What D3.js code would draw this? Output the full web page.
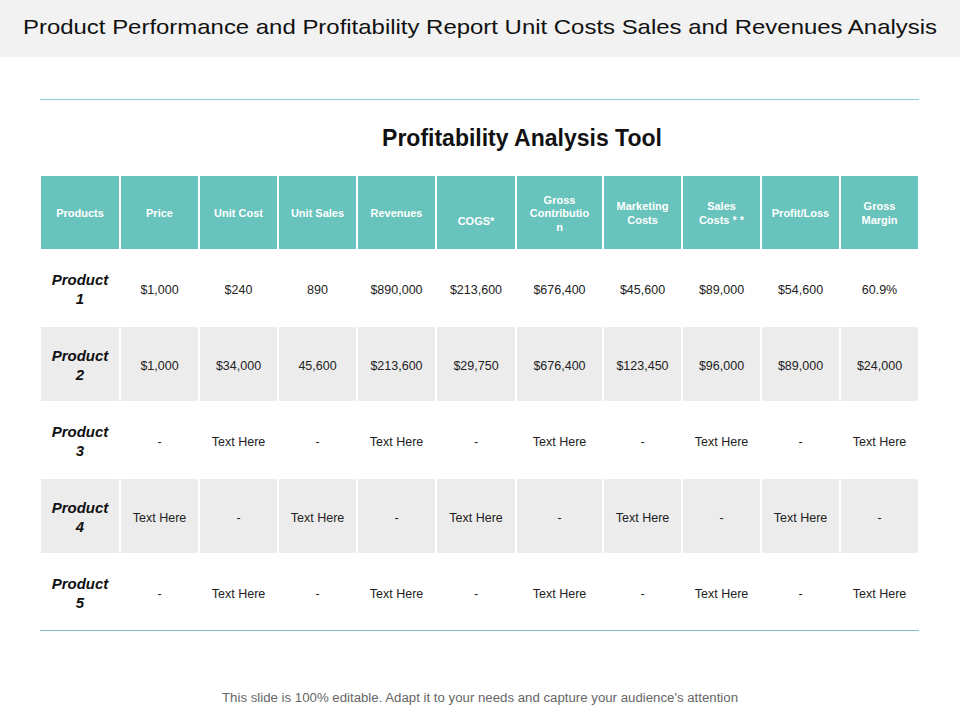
<!DOCTYPE html>
<html>
<head>
<meta charset="utf-8">
<script src="https://cdn.jsdelivr.net/npm/d3@7"></script>
<style>
  body { margin: 0; background: #fff; }
  svg { display: block; font-family: Arial, "Liberation Sans", sans-serif; }
</style>
</head>
<body>
<svg id="chart" width="960" height="720"></svg>
<script>
const headers = [
  ["Products"], ["Price"], ["Unit Cost"], ["Unit  Sales"], ["Revenues"], ["COGS*"],
  ["Gross", "Contributio", "n"], ["Marketing", "Costs"], ["Sales", "Costs * *"],
  ["Profit/Loss"], ["Gross", "Margin"]
];
const products = [["Product", "1"], ["Product", "2"], ["Product", "3"], ["Product", "4"], ["Product", "5"]];
const rows = [
  ["$1,000", "$240", "890", "$890,000", "$213,600", "$676,400", "$45,600", "$89,000", "$54,600", "60.9%"],
  ["$1,000", "$34,000", "45,600", "$213,600", "$29,750", "$676,400", "$123,450", "$96,000", "$89,000", "$24,000"],
  ["-", "Text Here", "-", "Text Here", "-", "Text Here", "-", "Text Here", "-", "Text Here"],
  ["Text Here", "-", "Text Here", "-", "Text Here", "-", "Text Here", "-", "Text Here", "-"],
  ["-", "Text Here", "-", "Text Here", "-", "Text Here", "-", "Text Here", "-", "Text Here"]
];
// relative column widths (layout only)
const colWidths = [80, 79, 79, 79, 79, 80, 87, 79, 79, 79, 79];

const svg = d3.select("#chart");

// page title bar
svg.append("rect").attr("width", 960).attr("height", 57).attr("fill", "#f2f2f2");
svg.append("text").attr("x", 480).attr("y", 34).attr("text-anchor", "middle")
  .attr("font-size", 21).attr("fill", "#111")
  .attr("textLength", 914).attr("lengthAdjust", "spacingAndGlyphs")
  .text("Product Performance and Profitability Report Unit Costs Sales and Revenues Analysis");

svg.append("line").attr("x1", 40).attr("x2", 919).attr("y1", 99.5).attr("y2", 99.5)
  .attr("stroke", "#8fcfcf").attr("stroke-width", 1);

svg.append("text").attr("x", 522).attr("y", 146).attr("text-anchor", "middle")
  .attr("font-size", 23).attr("font-weight", "bold").attr("fill", "#111")
  .text("Profitability Analysis Tool");

// column edges from widths
const edges = [0];
colWidths.forEach(w => edges.push(edges[edges.length - 1] + w));
const x = d3.scaleLinear().domain([0, edges[edges.length - 1]]).range([40, 919]);
const y = d3.scaleLinear().domain([0, rows.length]).range([250, 630]);

// header
const hg = svg.append("g");
headers.forEach((h, i) => {
  const x0 = x(edges[i]), x1 = x(edges[i + 1]);
  hg.append("rect").attr("x", x0).attr("y", 175).attr("width", x1 - x0).attr("height", 75)
    .attr("fill", "#67c3bb").attr("stroke", "#fff").attr("stroke-width", 2);
  const cy = i === 5 ? 221 : 213;
  const t = hg.append("text").attr("text-anchor", "middle").attr("fill", "#fff")
    .attr("font-size", 11).attr("font-weight", "bold");
  h.forEach((line, j) => {
    t.append("tspan").attr("x", (x0 + x1) / 2)
      .attr("y", cy + 4 + (j - (h.length - 1) / 2) * 13.5).text(line);
  });
});

// body rows
const bg = svg.append("g");
rows.forEach((r, ri) => {
  const y0 = y(ri), y1 = y(ri + 1);
  const cy = (y0 + y1) / 2;
  [products[ri]].concat(r).forEach((cell, ci) => {
    const x0 = x(edges[ci]), x1 = x(edges[ci + 1]);
    bg.append("rect").attr("x", x0).attr("y", y0).attr("width", x1 - x0).attr("height", y1 - y0)
      .attr("fill", ri % 2 === 1 ? "#ececec" : "#fff").attr("stroke", "#fff").attr("stroke-width", 2);
    if (ci === 0) {
      const t = bg.append("text").attr("text-anchor", "middle").attr("fill", "#111")
        .attr("font-size", 15).attr("font-weight", "bold").attr("font-style", "italic");
      cell.forEach((line, j) => {
        t.append("tspan").attr("x", (x0 + x1) / 2).attr("y", cy + 6 + (j - 0.5) * 19).text(line);
      });
    } else {
      bg.append("text").attr("x", (x0 + x1) / 2).attr("y", cy + 6)
        .attr("text-anchor", "middle").attr("font-size", 12.5).attr("fill", "#222").text(cell);
    }
  });
});

svg.append("line").attr("x1", 40).attr("x2", 919).attr("y1", 630.5).attr("y2", 630.5)
  .attr("stroke", "#7fbfc4").attr("stroke-width", 1);

svg.append("text").attr("x", 480).attr("y", 702).attr("text-anchor", "middle")
  .attr("font-size", 12).attr("fill", "#666")
  .attr("textLength", 516).attr("lengthAdjust", "spacingAndGlyphs")
  .text("This slide is 100% editable. Adapt it to your needs and capture your audience's attention");
</script>
</body>
</html>
